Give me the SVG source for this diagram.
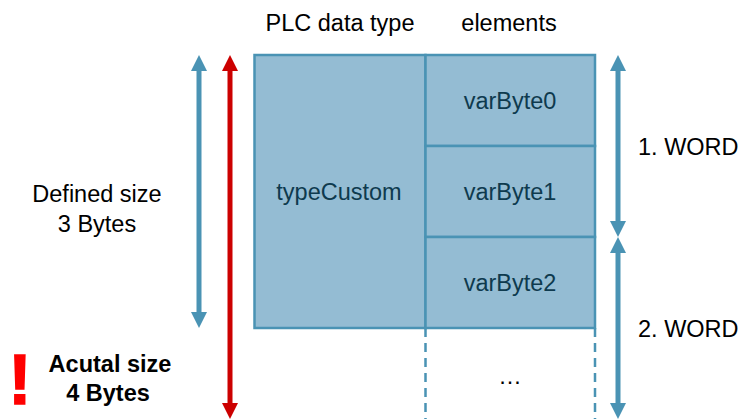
<svg xmlns="http://www.w3.org/2000/svg" width="744" height="419" viewBox="0 0 744 419">
<defs>
<style>
.lbl{font-family:"Liberation Sans",Arial,sans-serif;font-size:23.5px;fill:#000;}
.in{font-family:"Liberation Sans",Arial,sans-serif;font-size:23.5px;fill:#0e3a4e;text-anchor:middle;}
.box{fill:#94bcd3;stroke:#4a93b4;stroke-width:2.5;}
.dash{stroke:#4a93b4;stroke-width:2.5;stroke-dasharray:9 6;fill:none;}
.ab{stroke:#4a93b4;stroke-width:5;fill:none;marker-start:url(#hb);marker-end:url(#hb);}
.ar{stroke:#cc0000;stroke-width:5;fill:none;marker-start:url(#hr);marker-end:url(#hr);}
</style>
<marker id="hb" viewBox="0 0 16 16" refX="6" refY="8" markerWidth="16" markerHeight="16" markerUnits="userSpaceOnUse" orient="auto-start-reverse"><path d="M0,0 L16,8 L0,16 z" fill="#4a93b4"/></marker>
<marker id="hr" viewBox="0 0 16 16" refX="6" refY="8" markerWidth="16" markerHeight="16" markerUnits="userSpaceOnUse" orient="auto-start-reverse"><path d="M0,0 L16,8 L0,16 z" fill="#cc0000"/></marker>
</defs>
<rect width="744" height="419" fill="#fff"/>
<text class="lbl" x="340" y="31" text-anchor="middle">PLC data type</text>
<text class="lbl" x="509" y="31" text-anchor="middle">elements</text>
<g id="typeCustom">
<rect class="box" x="254.5" y="55" width="171" height="273"/>
<text class="in" x="339" y="200">typeCustom</text>
</g>
<g id="varByte0">
<rect class="box" x="425.5" y="55" width="169.5" height="91"/>
<text class="in" x="510" y="109">varByte0</text>
</g>
<g id="varByte1">
<rect class="box" x="425.5" y="146" width="169.5" height="91"/>
<text class="in" x="510" y="200">varByte1</text>
</g>
<g id="varByte2">
<rect class="box" x="425.5" y="237" width="169.5" height="91"/>
<text class="in" x="510" y="291">varByte2</text>
</g>
<g id="more">
<line class="dash" x1="425.5" y1="328" x2="425.5" y2="419"/>
<line class="dash" x1="595" y1="328" x2="595" y2="419"/>
<text class="lbl" x="510" y="384" text-anchor="middle">…</text>
</g>
<g id="connectors">
<line class="ab" x1="199" y1="65" x2="199" y2="318"/>
<line class="ar" x1="230" y1="65" x2="230" y2="409"/>
<line class="ab" x1="618" y1="65" x2="618" y2="227"/>
<line class="ab" x1="618" y1="247" x2="618" y2="409"/>
</g>
<g id="labels">
<text class="lbl" x="97" y="202" text-anchor="middle">Defined size</text>
<text class="lbl" x="97" y="232" text-anchor="middle">3 Bytes</text>
<text class="lbl" x="638" y="155">1. WORD</text>
<text class="lbl" x="638" y="337">2. WORD</text>
<text x="20" y="404" text-anchor="middle" style="font-family:'Liberation Sans',Arial,sans-serif;font-size:70px;font-weight:bold;fill:#ff0000;stroke:#ff0000;stroke-width:1.5">!</text>
<text class="lbl" x="110" y="372" text-anchor="middle" font-weight="bold">Acutal size</text>
<text class="lbl" x="108" y="401" text-anchor="middle" font-weight="bold">4 Bytes</text>
</g>
</svg>
